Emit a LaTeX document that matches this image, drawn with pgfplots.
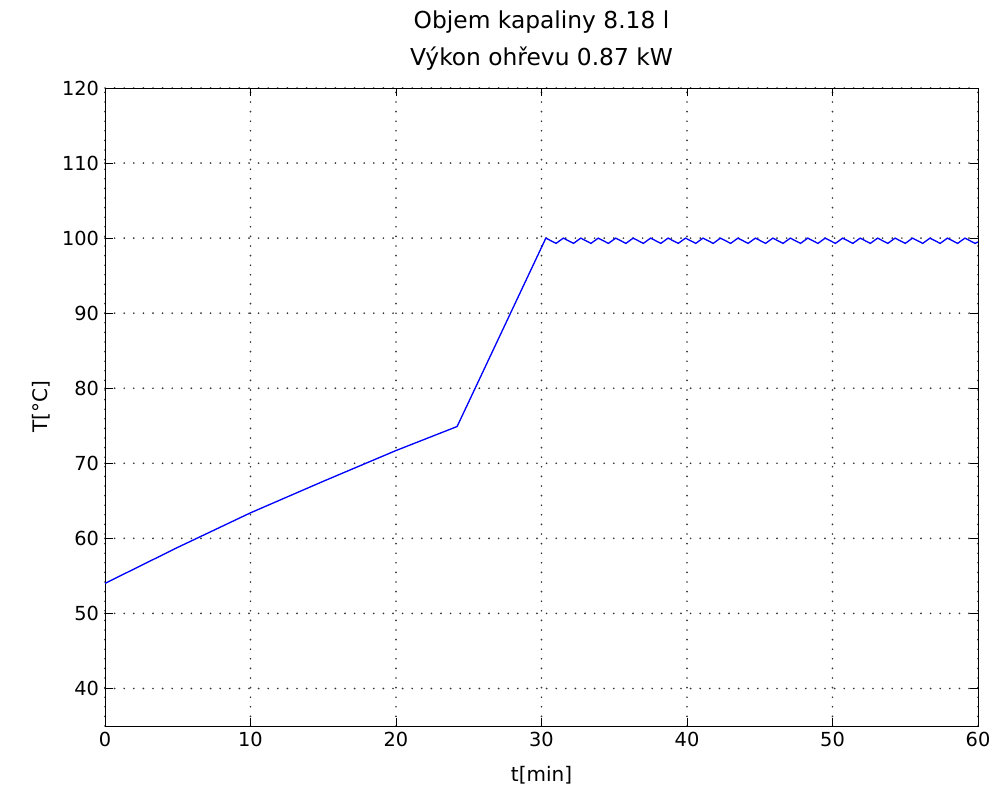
\documentclass[border=0pt]{standalone}
\usepackage{fontspec}
\setmainfont{DejaVu Sans}
\usepackage{pgfplots}
\pgfplotsset{compat=1.18}
\begin{document}
\begin{tikzpicture}
\path[use as bounding box] (-78.75pt,-54.75pt) rectangle (667.5pt,544.5pt);
\begin{axis}[
  at={(0,0)}, anchor=south west,
  scale only axis, width=654.75pt, height=478.5pt,
  xmin=0, xmax=60, ymin=35, ymax=120,
  xtick={0,10,...,60}, ytick={40,50,...,120},
  tick align=inside, tick pos=both,
  major tick length=6pt,
  grid=major,
  major grid style={black!80, line cap=round, dash pattern=on 0pt off 7.2pt, line width=1.4pt},
  axis line style={black, line width=0.6pt},
  tick style={black, line width=0.6pt},
  /pgf/number format/assume math mode=true,
  ticklabel style={font=\fontsize{14.5}{16}\selectfont},
  xticklabel style={yshift=-1pt},
  yticklabel style={xshift=-1pt},
  label style={font=\fontsize{15}{16}\selectfont},
  xlabel={t[min]},
  ylabel={T[°C]},
  xlabel style={yshift=-8pt},
  ylabel style={yshift=2pt},
  title={Objem kapaliny 8.18 l\\Výkon ohřevu 0.87 kW},
  title style={align=center, font=\fontsize{17.5}{27.5}\selectfont, yshift=4pt},
]
\addplot[color={rgb,255:red,0;green,0;blue,255}, line width=1pt] coordinates {
(0,54) (5,58.8) (10,63.4) (15,67.6) (20,71.7) (24.2,74.9) (30.3,100)
(31.0,99.3) (31.5,100) (32.2,99.3) (32.7,100) (33.4,99.3) (33.9,100)
(34.6,99.3) (35.1,100) (35.8,99.3) (36.3,100) (37.0,99.3) (37.5,100)
(38.2,99.3) (38.7,100) (39.4,99.3) (39.9,100) (40.6,99.3) (41.1,100)
(41.8,99.3) (42.3,100) (43.0,99.3) (43.5,100) (44.2,99.3) (44.7,100)
(45.4,99.3) (45.9,100) (46.6,99.3) (47.1,100) (47.8,99.3) (48.3,100)
(49.0,99.3) (49.5,100) (50.2,99.3) (50.7,100) (51.4,99.3) (51.9,100)
(52.6,99.3) (53.1,100) (53.8,99.3) (54.3,100) (55.0,99.3) (55.5,100)
(56.2,99.3) (56.7,100) (57.4,99.3) (57.9,100) (58.6,99.3) (59.1,100)
(59.8,99.3) (60,99.5)
};
\end{axis}
\end{tikzpicture}
\end{document}
